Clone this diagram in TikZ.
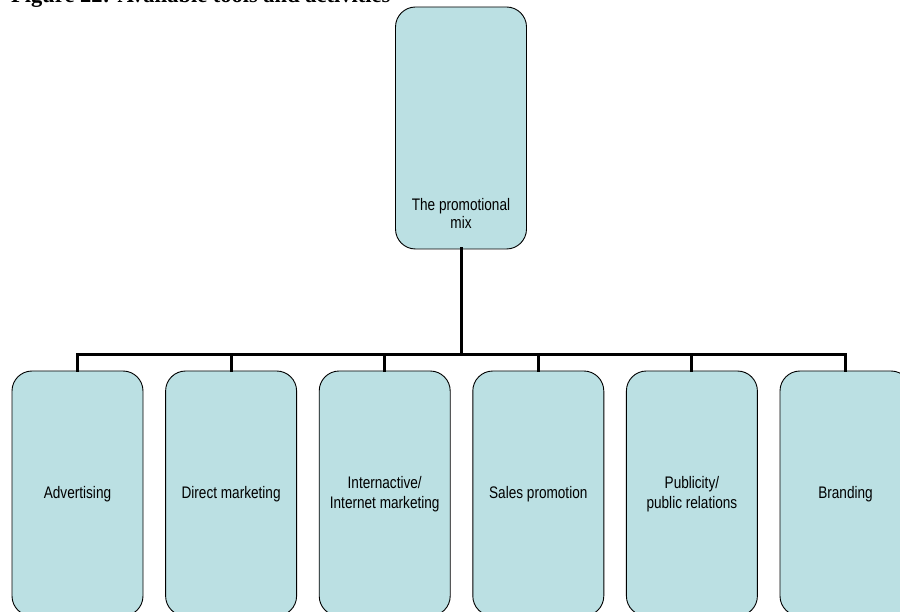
\documentclass[tikz,border=0pt]{standalone}
\usepackage{graphicx}
\usepackage{fontspec}
\setmainfont{Liberation Sans}
\newfontfamily\captionfont{Liberation Serif}
\definecolor{boxfill}{RGB}{187,224,227}
% box labels: Arial-width text drawn slightly taller than wide
\newcommand{\tallstack}[2]{\scalebox{1}[1.23]{\fontsize{13.6}{#1}\selectfont\begin{tabular}{@{}c@{}}#2\end{tabular}}}
\begin{document}
\begin{tikzpicture}[x=1pt,y=1pt,
  mixbox/.style={draw=black, line width=0.9pt, fill=boxfill, rounded corners=20pt,
                 minimum width=131pt, inner sep=0pt, outer sep=0pt},
  boxtext/.style={align=center, inner sep=0pt},
  conn/.style={line width=3pt, line join=miter, line cap=rect}]
\useasboundingbox (0,0) rectangle (900,-612);
\clip (0,0) rectangle (900,-612);

% caption, partly cut off by the top edge
\node[anchor=base west, inner sep=0pt, font=\captionfont\bfseries\fontsize{22.5}{26}\selectfont]
  (caption) at (11,-3) {Figure 22: Available tools and activities};

% root box
\node[mixbox, minimum height=242pt] (root) at (461,-128) {};
\node[boxtext] (rootlabel) at (461,-215.5) {\tallstack{14.6}{The promotional\\mix}};

% tool boxes (they run past the bottom edge)
\foreach \i/\cx/\txt in {1/77.5/Advertising,
                         2/231.1/Direct marketing,
                         3/384.7/{Internactive/\\Internet marketing},
                         4/538.3/Sales promotion,
                         5/691.9/{Publicity/\\public relations},
                         6/845.5/Branding}{
  \node[mixbox, minimum height=245pt] (c\i) at (\cx,-493.5) {};
  \node[boxtext] (t\i) at (\cx,-494.5) {\tallstack{16.3}{\txt}};
}

% tree connectors
\coordinate (bus) at (461,-355);
\draw[conn] (root.south) -- (bus);
\draw[conn] (c1.north) -- (c1.north |- bus) -- (c6.north |- bus) -- (c6.north);
\foreach \i in {2,3,4,5}{
  \draw[conn] (c\i.north) -- (c\i.north |- bus);
}
\end{tikzpicture}
\end{document}
